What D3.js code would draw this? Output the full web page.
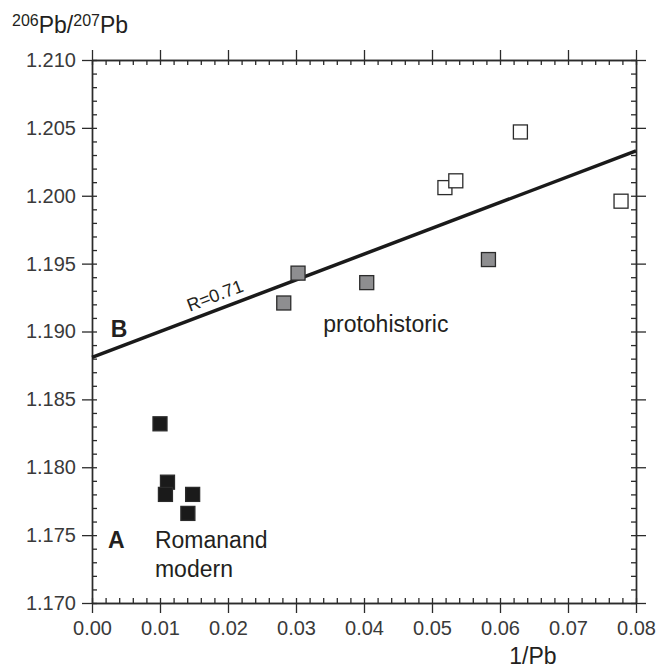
<!DOCTYPE html>
<html>
<head>
<meta charset="utf-8">
<script src="https://cdn.jsdelivr.net/npm/d3@7"></script>
<style>
  body { margin: 0; background: #fff; }
  svg { font-family: "Liberation Sans", Arial, sans-serif; }
  .tick-label { font-size: 20px; fill: #3a3a3a; }
  .note { font-size: 23px; fill: #231f20; }
</style>
</head>
<body>
<svg id="chart" width="657" height="668"></svg>
<script>
// values
let xTicks = [0, 0.01, 0.02, 0.03, 0.04, 0.05, 0.06, 0.07, 0.08]
let yTicks = [1.170, 1.175, 1.180, 1.185, 1.190, 1.195, 1.200, 1.205, 1.210]

// protohistoric, above the line (open squares)
let openPts = [[0.0519, 1.2006], [0.0535, 1.2011], [0.0630, 1.2047], [0.0778, 1.1996]]
// protohistoric, grey squares
let greyPts = [[0.0282, 1.1921], [0.0303, 1.1943], [0.0404, 1.1936], [0.0583, 1.1953]]
// Roman and modern (black squares)
let blackPts = [[0.0100, 1.1832], [0.0111, 1.1789], [0.0108, 1.1780], [0.0148, 1.1780], [0.0141, 1.1766]]

// regression line ends
let fitX = [0, 0.08]
let fitY = [1.1881, 1.2033]

let svg = d3.select('#chart')
let mLeft = 92, mRight = 636, mTop = 60, mBottom = 603

let x = d3.scaleLinear().domain([0, 0.08]).range([mLeft, mRight])
let y = d3.scaleLinear().domain([1.170, 1.210]).range([mBottom, mTop])

let minorX = d3.range(0, 0.0801, 0.002)
let minorY = d3.range(1.170, 1.2101, 0.001)

function styleAxis(g) {
    g.select('.domain').attr('stroke', '#2b2b2b').attr('stroke-width', 1.4)
    g.selectAll('.tick line').attr('stroke', '#2b2b2b').attr('stroke-width', 1.3)
}

// minor ticks (inside)
svg.append('g').attr('transform', `translate(0,${mBottom})`)
    .call(d3.axisTop(x).tickValues(minorX).tickSize(5).tickFormat('').tickSizeOuter(0))
    .call(styleAxis)
svg.append('g').attr('transform', `translate(0,${mTop})`)
    .call(d3.axisBottom(x).tickValues(minorX).tickSize(5).tickFormat('').tickSizeOuter(0))
    .call(styleAxis)
svg.append('g').attr('transform', `translate(${mLeft},0)`)
    .call(d3.axisRight(y).tickValues(minorY).tickSize(5).tickFormat('').tickSizeOuter(0))
    .call(styleAxis)
svg.append('g').attr('transform', `translate(${mRight},0)`)
    .call(d3.axisLeft(y).tickValues(minorY).tickSize(5).tickFormat('').tickSizeOuter(0))
    .call(styleAxis)

// major ticks (outside)
let xAxis = svg.append('g').attr('transform', `translate(0,${mBottom})`)
    .call(d3.axisBottom(x).tickValues(xTicks).tickSize(10).tickSizeOuter(0).tickFormat(d3.format('.2f')))
    .call(styleAxis)
xAxis.attr('font-family', null).attr('font-size', null)
xAxis.selectAll('text').attr('class', 'tick-label').attr('dy', '0.95em').attr('fill', null)

svg.append('g').attr('transform', `translate(0,${mTop})`)
    .call(d3.axisTop(x).tickValues(xTicks).tickSize(10).tickSizeOuter(0).tickFormat(''))
    .call(styleAxis)

let yAxis = svg.append('g').attr('transform', `translate(${mLeft},0)`)
    .call(d3.axisLeft(y).tickValues(yTicks).tickSize(10).tickSizeOuter(0).tickFormat(d3.format('.3f')))
    .call(styleAxis)
yAxis.attr('font-family', null).attr('font-size', null)
yAxis.selectAll('text').attr('class', 'tick-label').attr('x', -16).attr('fill', null)

svg.append('g').attr('transform', `translate(${mRight},0)`)
    .call(d3.axisRight(y).tickValues(yTicks).tickSize(10).tickSizeOuter(0).tickFormat(''))
    .call(styleAxis)

// regression line
let line = d3.line().x(d => x(d[0])).y(d => y(d[1]))
svg.append('path')
    .datum(d3.zip(fitX, fitY))
    .attr('d', line)
    .attr('fill', 'none')
    .attr('stroke', '#1a1a1a')
    .attr('stroke-width', 3.5)

let angle = Math.atan2(y(fitY[1]) - y(fitY[0]), x(fitX[1]) - x(fitX[0])) * 180 / Math.PI
let rx = x(0.0148), ry = y(fitY[0] + (fitY[1] - fitY[0]) * 0.0148 / 0.08)
svg.append('text')
    .attr('transform', `translate(${rx},${ry}) rotate(${angle})`)
    .attr('dy', -8)
    .attr('font-size', 18)
    .attr('fill', '#231f20')
    .text('R=0.71')

// squares
let side = 14
function drawSquares(pts, fill) {
    svg.append('g').selectAll('rect')
        .data(pts)
        .enter()
        .append('rect')
        .attr('x', d => x(d[0]) - side / 2)
        .attr('y', d => y(d[1]) - side / 2)
        .attr('width', side)
        .attr('height', side)
        .attr('fill', fill)
        .attr('stroke', '#2b2b2b')
        .attr('stroke-width', 1.3)
}
drawSquares(openPts, '#ffffff')
drawSquares(greyPts, '#8e8e90')
drawSquares(blackPts, '#1a1a1a')

// annotations
svg.append('text').attr('class', 'note').attr('x', x(0.00275)).attr('y', y(1.1896))
    .attr('font-weight', 'bold').attr('font-size', 22).text('B')
svg.append('text').attr('class', 'note').attr('x', x(0.00235)).attr('y', y(1.17405))
    .attr('font-weight', 'bold').attr('font-size', 22).text('A')
svg.append('text').attr('class', 'note').attr('x', x(0.0340)).attr('y', y(1.1900)).text('protohistoric')
svg.append('text').attr('class', 'note').attr('x', x(0.00926)).attr('y', y(1.17405)).text('Romanand')
svg.append('text').attr('class', 'note').attr('x', x(0.00926)).attr('y', y(1.17192)).text('modern')

// axis titles
let title = svg.append('text').attr('class', 'note').attr('x', 12).attr('y', 33).attr('font-size', 23)
title.append('tspan').attr('font-size', 16).attr('dy', -7).text('206')
title.append('tspan').attr('dy', 7).text('Pb/')
title.append('tspan').attr('font-size', 16).attr('dy', -7).text('207')
title.append('tspan').attr('dy', 7).text('Pb')

svg.append('text').attr('class', 'note').attr('x', 533).attr('y', 664)
    .attr('text-anchor', 'middle').attr('font-size', 22).text('1/Pb')
</script>
</body>
</html>
